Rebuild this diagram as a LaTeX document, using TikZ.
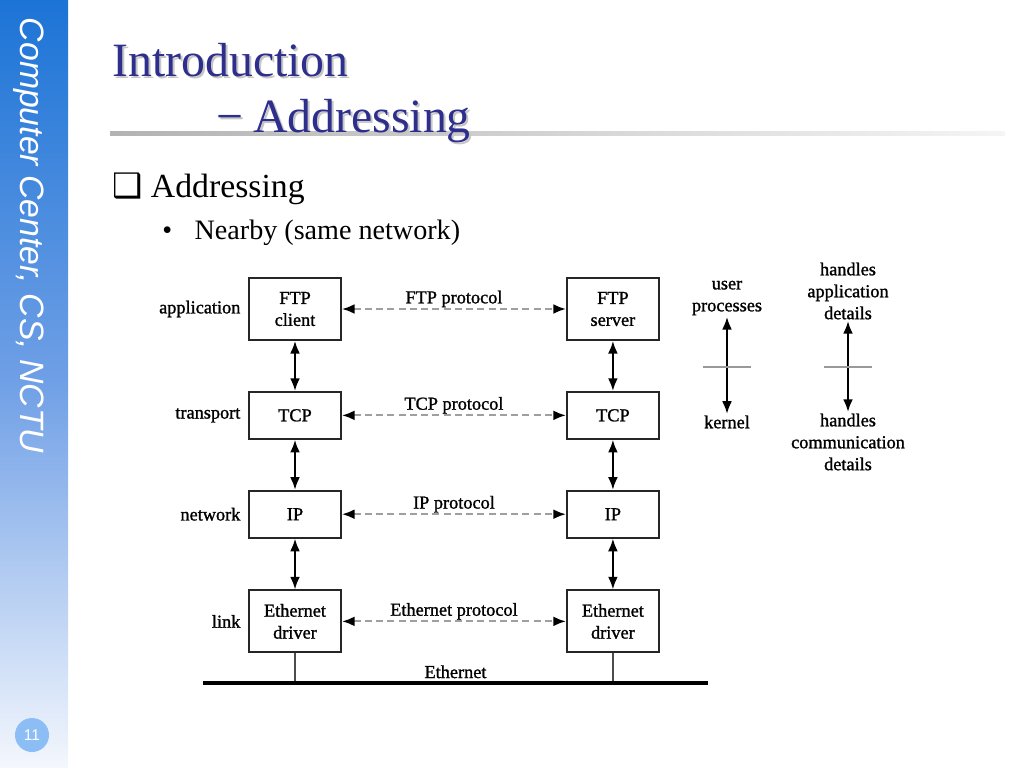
\documentclass[tikz,border=0pt]{standalone}
\usepackage{fontspec}
\setmainfont{Liberation Serif}
\setsansfont{Liberation Sans}
\newfontfamily\symfont{DejaVu Sans}
\newfontfamily\scanfont[FakeBold=1.2]{Liberation Serif}
\usetikzlibrary{positioning,arrows.meta}

\definecolor{titleblue}{RGB}{46,46,140}
\definecolor{sidetop}{RGB}{28,116,214}
\definecolor{sidemid}{RGB}{112,160,230}
\definecolor{sidebot}{RGB}{244,247,253}
\definecolor{pagecirc}{RGB}{140,190,245}

\newcommand{\diagfont}{\scanfont\fontsize{13}{15.6}\selectfont}

\begin{document}
\begin{tikzpicture}[
    x=0.025cm, y=-0.025cm,
    layer/.style={draw=black!85,line width=1.3pt,minimum width=2.3cm,align=center,inner sep=2pt,font=\diagfont},
    tallbox/.style={layer,minimum height=1.55cm},
    shortbox/.style={layer,minimum height=1.175cm},
    side/.style={font=\diagfont,inner sep=1pt,align=center},
    peer/.style={draw=gray!75,line width=1.5pt,dash pattern=on 5pt off 3pt,
        {Latex[length=9pt,width=7pt,color=black]}-{Latex[length=9pt,width=7pt,color=black]}},
    updown/.style={draw=black,line width=1.4pt,
        {Latex[length=9pt,width=7pt]}-{Latex[length=9pt,width=7pt]}},
    crossbar/.style={draw=gray!80,line width=1.2pt},
    drop/.style={draw=black!70,line width=1.1pt},
    bus/.style={draw=black,line width=2.8pt}
]
    \useasboundingbox (0,0) rectangle (1024,768);

    % side bar
    \shade[top color=sidetop,bottom color=sidebot,middle color=sidemid] (0,0) rectangle (68,768);
    \node[rotate=-90,anchor=base west,text=white,font=\sffamily\itshape\fontsize{24}{28}\selectfont]
        (brand) at (21,13) {Computer Center, CS, NCTU};
    \node[circle,fill=pagecirc,minimum size=0.85cm,inner sep=0pt,text=white,
        font=\sffamily\fontsize{11}{12}\selectfont] (page) at (32,735) {11};

    % title
    \shade[left color=gray!60,right color=gray!8] (110,132) rectangle (1005,136);
    \node[anchor=base west,inner sep=0pt,text=gray!45,font=\fontsize{34}{40}\selectfont]
        at (114,79) {Introduction};
    \node[anchor=base west,inner sep=0pt,text=titleblue,font=\fontsize{34}{40}\selectfont]
        (titleA) at (112,77) {Introduction};
    \node[anchor=base west,inner sep=0pt,text=gray!45,font=\fontsize{34}{40}\selectfont]
        at (218,135) {\char"2212\hspace{7pt}Addressing};
    \node[anchor=base west,inner sep=0pt,text=titleblue,font=\fontsize{34}{40}\selectfont]
        (titleB) at (216,133) {\char"2212\hspace{7pt}Addressing};

    % bullets
    \node[anchor=base west,inner sep=0pt,font=\fontsize{24}{28}\selectfont]
        (bulletA) at (112,197) {{\symfont\char"2751}\ Addressing};
    \node[anchor=base west,inner sep=0pt,font=\fontsize{20}{24}\selectfont]
        (bulletB) at (162,239) {\textbullet\hspace{16pt}Nearby (same network)};

    % client stack
    \node[tallbox] (FTPc) at (295,309) {FTP\\client};
    \node[shortbox] (TCPc) [below=1.25cm of FTPc] {TCP};
    \node[shortbox] (IPc) [below=1.25cm of TCPc] {IP};
    \node[tallbox] (ETHc) [below=1.27cm of IPc] {Ethernet\\driver};

    % server stack
    \node[tallbox] (FTPs) [right=5.6cm of FTPc] {FTP\\server};
    \node[shortbox] (TCPs) [right=5.6cm of TCPc] {TCP};
    \node[shortbox] (IPs) [right=5.6cm of IPc] {IP};
    \node[tallbox] (ETHs) [right=5.6cm of ETHc] {Ethernet\\driver};

    % layer names
    \node[side] (Lapp) [left=0.15cm of FTPc] {application};
    \node[side] (Ltra) [left=0.15cm of TCPc] {transport};
    \node[side] (Lnet) [left=0.15cm of IPc] {network};
    \node[side] (Llnk) [left=0.15cm of ETHc] {link};

    % peer protocols
    \draw[peer] (FTPc) -- node[side,above,inner sep=0.5pt] {FTP protocol} (FTPs);
    \draw[peer] (TCPc) -- node[side,above,inner sep=0.5pt] {TCP protocol} (TCPs);
    \draw[peer] (IPc) -- node[side,above,inner sep=0.5pt] {IP protocol} (IPs);
    \draw[peer] (ETHc) -- node[side,above,inner sep=0.5pt] {Ethernet protocol} (ETHs);

    % up and down the stacks
    \draw[updown] (FTPc) -- (TCPc);
    \draw[updown] (TCPc) -- (IPc);
    \draw[updown] (IPc) -- (ETHc);
    \draw[updown] (FTPs) -- (TCPs);
    \draw[updown] (TCPs) -- (IPs);
    \draw[updown] (IPs) -- (ETHs);

    % the cable
    \coordinate (busL) at (203,683);
    \coordinate (busR) at (708,683);
    \draw[drop] (ETHc.south) -- (ETHc.south |- busL);
    \draw[drop] (ETHs.south) -- (ETHs.south |- busL);
    \draw[bus] (busL) -- node[side,above=1pt] {Ethernet} (busR);

    % user / kernel split
    \node[side] (user) at (727,298) {user\\processes};
    \node[side] (kern) at (727,422) {kernel};
    \node[side] (appd) at (848,291) {handles\\application\\details};
    \node[side] (comd) at (848,442) {handles\\communication\\details};
    \draw[updown] (user) -- (kern);
    \draw[updown] (appd) -- (comd);
    \coordinate (barA) at (727,367);
    \coordinate (barB) at (848,367);
    \draw[crossbar] ([xshift=-0.6cm]barA) -- ([xshift=0.6cm]barA);
    \draw[crossbar] ([xshift=-0.6cm]barB) -- ([xshift=0.6cm]barB);
\end{tikzpicture}
\end{document}
